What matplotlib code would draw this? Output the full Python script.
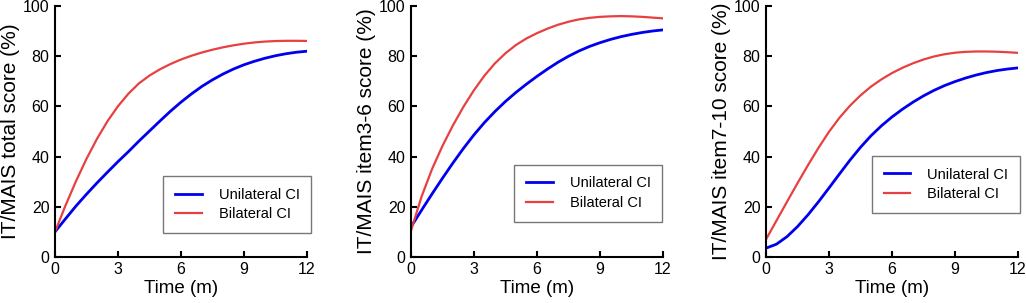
import numpy as np
import matplotlib
matplotlib.use("Agg")
import matplotlib.pyplot as plt

plt.rcParams['font.family'] = ['Liberation Sans', 'DejaVu Sans']

# months, read every half month
months = np.arange(0, 12.5, 0.5)

total_uni = [10, 15.2, 20.3, 25, 29.5, 33.8, 38, 42, 46.2, 50.2, 54.2, 58.1, 61.7,
             65.0, 68.0, 70.6, 72.9, 74.9, 76.6, 78.0, 79.2, 80.2, 81.0, 81.6, 82.0]
total_bi = [10, 20.5, 30.2, 39.1, 47.1, 54.1, 60.1, 65.1, 69.2, 72.3, 74.8, 76.9, 78.7,
            80.2, 81.5, 82.6, 83.55, 84.35, 85.0, 85.5, 85.85, 86.05, 86.15, 86.15, 86.1]

item36_uni = [12, 18.6, 25.1, 31.4, 37.5, 43.3, 48.7, 53.6, 58.0, 62.0, 65.6, 68.9, 72.0,
              74.9, 77.6, 80.0, 82.1, 83.9, 85.4, 86.7, 87.8, 88.7, 89.45, 90.05, 90.5]
item36_bi = [10.5, 24, 35, 44.3, 52.5, 59.9, 66.5, 72.3, 77.2, 81.2, 84.5, 87.1, 89.2,
             91.0, 92.55, 93.75, 94.7, 95.3, 95.7, 95.9, 96.0, 95.9, 95.7, 95.4, 95.1]

item710_uni = [3.5, 5.1, 8.1, 12.1, 16.8, 22.0, 27.5, 33.1, 38.6, 43.7, 48.3, 52.3, 55.8,
               58.9, 61.7, 64.2, 66.4, 68.3, 69.9, 71.3, 72.5, 73.5, 74.3, 74.9, 75.35]
item710_bi = [7, 14.5, 22, 29.4, 36.6, 43.5, 49.9, 55.5, 60.3, 64.4, 67.9, 70.8, 73.3,
              75.4, 77.2, 78.7, 79.9, 80.8, 81.4, 81.75, 81.9, 81.9, 81.8, 81.6, 81.35]

panels = [
    ("IT/MAIS total score (%)", total_uni, total_bi),
    ("IT/MAIS item3-6 score (%)", item36_uni, item36_bi),
    ("IT/MAIS item7-10 score (%)", item710_uni, item710_bi),
]

lefts = [0.0536, 0.4006, 0.7466]
legend_pos = [(0.43, 0.095), (0.41, 0.14), (0.42, 0.175)]

fig = plt.figure(figsize=(10.26, 3.03), dpi=100)

for i, (ylab, uni, bi) in enumerate(panels):
    ax = fig.add_axes([lefts[i], 0.152, 0.2456, 0.828])
    ax.plot(months, uni, color='#0000ee', lw=2.0, label='Unilateral CI')
    ax.plot(months, bi, color='#e84040', lw=1.6, label='Bilateral CI')
    ax.set_xlim(0, 12)
    ax.set_ylim(0, 100)
    ax.set_xticks([0, 3, 6, 9, 12])
    ax.set_yticks([0, 20, 40, 60, 80, 100])
    ax.spines['top'].set_visible(False)
    ax.spines['right'].set_visible(False)
    for s in ['left', 'bottom']:
        ax.spines[s].set_linewidth(1.5)
    ax.tick_params(direction='in', length=4, width=1.5, labelsize=11.5, pad=4)
    ax.set_xlabel("Time (m)", fontsize=13.5, labelpad=2)
    ax.set_ylabel(ylab, fontsize=15, labelpad=2)
    leg = ax.legend(loc='lower left', bbox_to_anchor=legend_pos[i], fontsize=10.5,
                    fancybox=False, edgecolor='#777777', framealpha=1,
                    handlelength=1.85, handletextpad=1.15, borderpad=0.8,
                    labelspacing=0.4, borderaxespad=0)
    leg.get_frame().set_linewidth(1.0)

fig.savefig("out.png", dpi=100)
